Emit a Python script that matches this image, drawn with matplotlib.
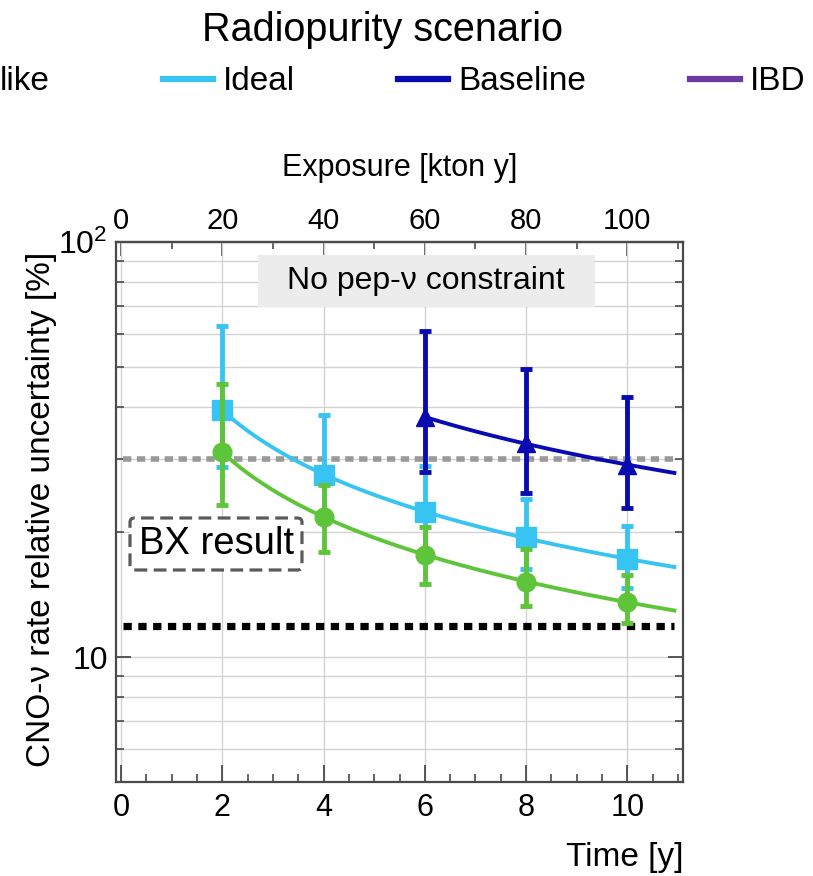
import numpy as np
import matplotlib
matplotlib.use("Agg")
import matplotlib.pyplot as plt
from matplotlib.lines import Line2D
from matplotlib.patches import Rectangle, FancyBboxPatch
from matplotlib.ticker import MultipleLocator, FixedLocator, FixedFormatter, NullFormatter

plt.rcParams['font.family'] = ['Liberation Sans', 'DejaVu Sans']

# --- data ---
time_ideal = [2, 4, 6, 8, 10]
ideal_val = [39.4, 27.5, 22.3, 19.5, 17.2]
ideal_lo = [28.7, 21.0, 18.1, 16.3, 14.7]
ideal_hi = [62.8, 38.3, 28.8, 24.0, 20.7]

time_bx = [2, 4, 6, 8, 10]
bx_val = [31.2, 21.7, 17.6, 15.2, 13.6]
bx_lo = [23.2, 17.9, 15.0, 13.3, 12.1]
bx_hi = [45.5, 26.0, 20.6, 18.2, 15.8]

time_base = [6, 8, 10]
base_val = [37.8, 32.8, 29.0]
base_lo = [27.9, 24.8, 22.9]
base_hi = [61.1, 49.4, 42.4]

bx_result_level = 30.0
black_level = 11.9
exposure_per_year = 10.0  # kton y per year

col_ideal = '#38c4f2'
col_base = '#0a0ab2'
col_bx = '#5ec43a'
col_ibd = '#6f3a9f'

fig = plt.figure(figsize=(8.13, 8.76), dpi=100)
ax = fig.add_axes([116 / 813, 94 / 876, 567 / 813, 540 / 876])
ax.set_yscale('log')
ax.set_xlim(-0.1, 11.1)
ax.set_ylim(5, 100)

x_end = 10.93


def fit_curve(t, v):
    coef = np.polyfit(np.log(t), np.log(v), 1)
    tt = np.linspace(t[0], x_end, 200)
    return tt, np.exp(np.polyval(coef, np.log(tt)))


# reference lines
ax.plot([0.03, x_end], [bx_result_level] * 2, color='#999999', lw=4,
        dashes=(1.5, 1.0), dash_capstyle='butt', zorder=2)
ax.plot([0.03, x_end], [black_level] * 2, color='black', lw=5.2,
        dashes=(1.15, 0.9), dash_capstyle='butt', zorder=2)

series = [
    (time_ideal, ideal_val, ideal_lo, ideal_hi, col_ideal, 's', 14.5, 3),
    (time_bx, bx_val, bx_lo, bx_hi, col_bx, 'o', 13.5, 4),
    (time_base, base_val, base_lo, base_hi, col_base, '^', 13, 5),
]
for t, v, lo, hi, c, m, ms, z in series:
    v = np.array(v)
    yerr = [v - np.array(lo), np.array(hi) - v]
    tt, cc = fit_curve(np.array(t, float), v)
    ax.plot(tt, cc, color=c, lw=2.8, zorder=z)
    ax.errorbar(t, v, yerr=yerr, fmt=m, color=c, ms=ms, elinewidth=3.5,
                capsize=4.5, capthick=3.5, zorder=z)

# axes styling
spine_col = '#4a4a4a'
for s in ax.spines.values():
    s.set_color(spine_col)
    s.set_linewidth(1.6)

ax.xaxis.set_major_locator(MultipleLocator(2))
ax.xaxis.set_minor_locator(MultipleLocator(0.5))
ax.yaxis.set_major_locator(FixedLocator([10, 100]))
ax.yaxis.set_major_formatter(FixedFormatter(['10', r'$\mathregular{10^{2}}$']))
ax.yaxis.set_minor_locator(FixedLocator([6, 7, 8, 9, 20, 30, 40, 50, 60, 70, 80, 90]))
ax.yaxis.set_minor_formatter(NullFormatter())

ax.tick_params(axis='x', which='major', direction='in', length=12, width=1.3,
               color=spine_col, labelsize=22, pad=8, top=False)
ax.tick_params(axis='x', which='minor', direction='in', length=6, width=1.2,
               color=spine_col, top=False)
ax.tick_params(axis='y', which='major', direction='in', length=11, width=1.3,
               color=spine_col, labelsize=23, pad=6, right=True)
ax.tick_params(axis='y', which='minor', direction='in', length=5.5, width=1.2,
               color=spine_col, right=True)

ax.xaxis.grid(True, which='major', color='#d2d2d2', lw=1)
ax.yaxis.grid(True, which='both', color='#d2d2d2', lw=1)
ax.set_axisbelow(True)

ax.set_xlabel('Time [y]', fontsize=24, loc='right')
ax.xaxis.set_label_coords(1.0, -0.112)
ax.set_ylabel('CNO-ν rate relative uncertainty [%]', fontsize=24)
ax.yaxis.set_label_coords(-0.104, 0.505)

# exposure axis on top
secax = ax.secondary_xaxis('top', functions=(lambda t: t * exposure_per_year,
                                              lambda e: e / exposure_per_year))
secax.xaxis.set_major_locator(MultipleLocator(20))
secax.xaxis.set_minor_locator(MultipleLocator(10))
secax.tick_params(axis='x', which='major', direction='in', length=10, width=1.3,
                  color=spine_col, labelsize=21, pad=5)
secax.tick_params(axis='x', which='minor', direction='in', length=5, width=1.2,
                  color=spine_col)
secax.spines['top'].set_color(spine_col)
secax.spines['top'].set_linewidth(1.6)
secax.set_xlabel('Exposure [kton y]', fontsize=22, labelpad=22)

# annotation boxes
ax.add_patch(Rectangle((0.2504, 0.8796), 0.5944, 0.0963, transform=ax.transAxes,
                       facecolor='#ececec', edgecolor='none', zorder=6))
ax.text(0.547, 0.927, 'No pep-ν constraint', transform=ax.transAxes,
        ha='center', va='center', fontsize=23, zorder=7)

ax.add_patch(FancyBboxPatch((0.0247, 0.3926), 0.3033, 0.0963, transform=ax.transAxes,
                            boxstyle='round,pad=0,rounding_size=0.008',
                            facecolor='white', edgecolor='#5a5a5a', lw=2.3,
                            linestyle=(0, (4, 2)), zorder=6))
ax.text(0.1764, 0.4407, 'BX result', transform=ax.transAxes,
        ha='center', va='center', fontsize=27.5, zorder=7)

# legend strip at the top (left part cut off in the original)
fig.text(382 / 813, 1 - 30 / 876, 'Radiopurity scenario', ha='center', va='center',
         fontsize=28.5)
fig.text(0.0, 1 - 82 / 876, 'like', ha='left', va='center', fontsize=24)
handles = [Line2D([], [], color=col_ideal, lw=4.5),
           Line2D([], [], color=col_base, lw=4.5),
           Line2D([], [], color=col_ibd, lw=4.5)]
fig.legend(handles, ['Ideal', 'Baseline', 'IBD'], ncol=3, frameon=False,
           fontsize=24, loc='center left', bbox_to_anchor=(163 / 813, 1 - 82 / 876),
           borderpad=0, borderaxespad=0, handlelength=1.5, handletextpad=0.3,
           columnspacing=3.1)

fig.savefig('out.png', dpi=100)
